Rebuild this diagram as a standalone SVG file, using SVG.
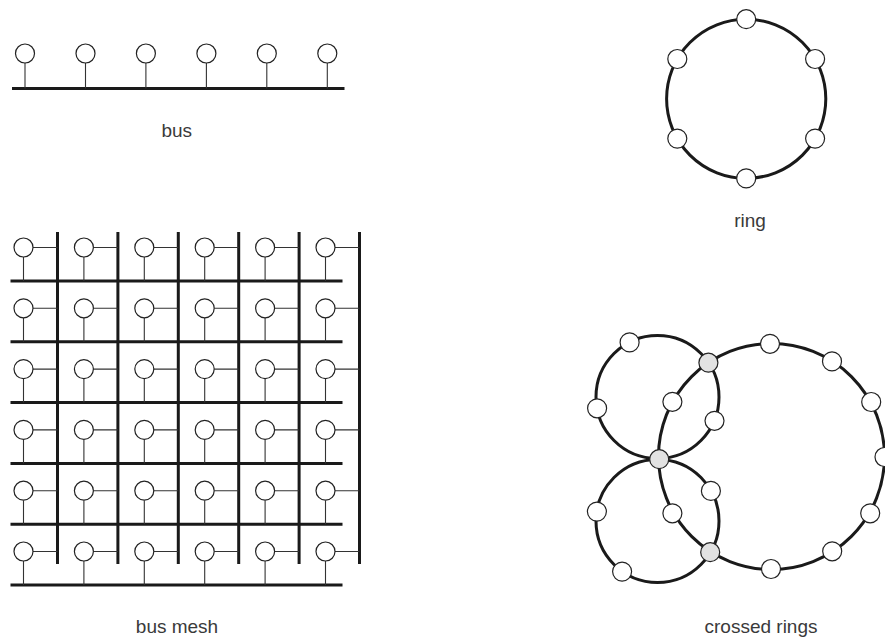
<svg xmlns="http://www.w3.org/2000/svg" width="885" height="638" viewBox="0 0 885 638">
<style>
.bg{fill:#ffffff}
.node{fill:#ffffff;stroke:#222222;stroke-width:1.2}
.hub{fill:#e2e2e2;stroke:#222222;stroke-width:1.2}
.bus{fill:none;stroke:#1a1a1a;stroke-width:3}
.stem{fill:none;stroke:#333333;stroke-width:1.1}
.ring{fill:none;stroke:#1a1a1a;stroke-width:3}
.lbl{font-family:"Liberation Sans",Arial,Helvetica,sans-serif;font-size:19px;fill:#3a3a3a;text-anchor:middle}
</style>
<rect class="bg" x="0" y="0" width="885" height="638"/>

<g id="connectors">
  <!-- bus -->
  <path class="bus" d="M12 88.5H344.5"/>
  <path class="stem" d="M25 63V88.5M85.5 63V88.5M145.9 63V88.5M206.4 63V88.5M266.8 63V88.5M327.3 63V88.5"/>
  <!-- ring -->
  <circle class="ring" cx="746.2" cy="98.8" r="79.6"/>
  <!-- bus mesh: horizontal buses -->
  <path class="bus" d="M10.5 281H342.5M10.5 341.8H342.5M10.5 402.6H342.5M10.5 463.4H342.5M10.5 524.2H342.5M10.5 585H342.5"/>
  <!-- bus mesh: vertical buses -->
  <path class="bus" d="M57.5 232V564M117.9 232V564M178.3 232V564M238.7 232V564M299.1 232V564M359.5 232V564"/>
  <!-- bus mesh: stems -->
  <path class="stem" d="M33 247.5H57.5M23.5 257V281M93.4 247.5H117.9M83.9 257V281M153.8 247.5H178.3M144.3 257V281M214.2 247.5H238.7M204.7 257V281M274.6 247.5H299.1M265.1 257V281M335 247.5H359.5M325.5 257V281"/>
  <path class="stem" d="M33 308.3H57.5M23.5 317.8V341.8M93.4 308.3H117.9M83.9 317.8V341.8M153.8 308.3H178.3M144.3 317.8V341.8M214.2 308.3H238.7M204.7 317.8V341.8M274.6 308.3H299.1M265.1 317.8V341.8M335 308.3H359.5M325.5 317.8V341.8"/>
  <path class="stem" d="M33 369.1H57.5M23.5 378.6V402.6M93.4 369.1H117.9M83.9 378.6V402.6M153.8 369.1H178.3M144.3 378.6V402.6M214.2 369.1H238.7M204.7 378.6V402.6M274.6 369.1H299.1M265.1 378.6V402.6M335 369.1H359.5M325.5 378.6V402.6"/>
  <path class="stem" d="M33 429.9H57.5M23.5 439.4V463.4M93.4 429.9H117.9M83.9 439.4V463.4M153.8 429.9H178.3M144.3 439.4V463.4M214.2 429.9H238.7M204.7 439.4V463.4M274.6 429.9H299.1M265.1 439.4V463.4M335 429.9H359.5M325.5 439.4V463.4"/>
  <path class="stem" d="M33 490.7H57.5M23.5 500.2V524.2M93.4 490.7H117.9M83.9 500.2V524.2M153.8 490.7H178.3M144.3 500.2V524.2M214.2 490.7H238.7M204.7 500.2V524.2M274.6 490.7H299.1M265.1 500.2V524.2M335 490.7H359.5M325.5 500.2V524.2"/>
  <path class="stem" d="M33 551.5H57.5M23.5 561V585M93.4 551.5H117.9M83.9 561V585M153.8 551.5H178.3M144.3 561V585M214.2 551.5H238.7M204.7 561V585M274.6 551.5H299.1M265.1 561V585M335 551.5H359.5M325.5 561V585"/>
  <!-- crossed rings -->
  <circle class="ring" cx="657.5" cy="397" r="61.5"/>
  <circle class="ring" cx="657.5" cy="521" r="61.5"/>
  <circle class="ring" cx="771.5" cy="456.5" r="113"/>
</g>

<!-- bus nodes -->
<g id="bus-n1"><circle class="node" cx="25" cy="53.5" r="9.5"/></g>
<g id="bus-n2"><circle class="node" cx="85.5" cy="53.5" r="9.5"/></g>
<g id="bus-n3"><circle class="node" cx="145.9" cy="53.5" r="9.5"/></g>
<g id="bus-n4"><circle class="node" cx="206.4" cy="53.5" r="9.5"/></g>
<g id="bus-n5"><circle class="node" cx="266.8" cy="53.5" r="9.5"/></g>
<g id="bus-n6"><circle class="node" cx="327.3" cy="53.5" r="9.5"/></g>

<!-- ring nodes -->
<g id="ring-n1"><circle class="node" cx="746.2" cy="19.2" r="9.5"/></g>
<g id="ring-n2"><circle class="node" cx="815.1" cy="59" r="9.5"/></g>
<g id="ring-n3"><circle class="node" cx="815.1" cy="138.6" r="9.5"/></g>
<g id="ring-n4"><circle class="node" cx="746.2" cy="178.4" r="9.5"/></g>
<g id="ring-n5"><circle class="node" cx="677.3" cy="138.6" r="9.5"/></g>
<g id="ring-n6"><circle class="node" cx="677.3" cy="59" r="9.5"/></g>

<!-- bus mesh nodes -->
<g id="mesh-r1c1"><circle class="node" cx="23.5" cy="247.5" r="9.5"/></g>
<g id="mesh-r1c2"><circle class="node" cx="83.9" cy="247.5" r="9.5"/></g>
<g id="mesh-r1c3"><circle class="node" cx="144.3" cy="247.5" r="9.5"/></g>
<g id="mesh-r1c4"><circle class="node" cx="204.7" cy="247.5" r="9.5"/></g>
<g id="mesh-r1c5"><circle class="node" cx="265.1" cy="247.5" r="9.5"/></g>
<g id="mesh-r1c6"><circle class="node" cx="325.5" cy="247.5" r="9.5"/></g>
<g id="mesh-r2c1"><circle class="node" cx="23.5" cy="308.3" r="9.5"/></g>
<g id="mesh-r2c2"><circle class="node" cx="83.9" cy="308.3" r="9.5"/></g>
<g id="mesh-r2c3"><circle class="node" cx="144.3" cy="308.3" r="9.5"/></g>
<g id="mesh-r2c4"><circle class="node" cx="204.7" cy="308.3" r="9.5"/></g>
<g id="mesh-r2c5"><circle class="node" cx="265.1" cy="308.3" r="9.5"/></g>
<g id="mesh-r2c6"><circle class="node" cx="325.5" cy="308.3" r="9.5"/></g>
<g id="mesh-r3c1"><circle class="node" cx="23.5" cy="369.1" r="9.5"/></g>
<g id="mesh-r3c2"><circle class="node" cx="83.9" cy="369.1" r="9.5"/></g>
<g id="mesh-r3c3"><circle class="node" cx="144.3" cy="369.1" r="9.5"/></g>
<g id="mesh-r3c4"><circle class="node" cx="204.7" cy="369.1" r="9.5"/></g>
<g id="mesh-r3c5"><circle class="node" cx="265.1" cy="369.1" r="9.5"/></g>
<g id="mesh-r3c6"><circle class="node" cx="325.5" cy="369.1" r="9.5"/></g>
<g id="mesh-r4c1"><circle class="node" cx="23.5" cy="429.9" r="9.5"/></g>
<g id="mesh-r4c2"><circle class="node" cx="83.9" cy="429.9" r="9.5"/></g>
<g id="mesh-r4c3"><circle class="node" cx="144.3" cy="429.9" r="9.5"/></g>
<g id="mesh-r4c4"><circle class="node" cx="204.7" cy="429.9" r="9.5"/></g>
<g id="mesh-r4c5"><circle class="node" cx="265.1" cy="429.9" r="9.5"/></g>
<g id="mesh-r4c6"><circle class="node" cx="325.5" cy="429.9" r="9.5"/></g>
<g id="mesh-r5c1"><circle class="node" cx="23.5" cy="490.7" r="9.5"/></g>
<g id="mesh-r5c2"><circle class="node" cx="83.9" cy="490.7" r="9.5"/></g>
<g id="mesh-r5c3"><circle class="node" cx="144.3" cy="490.7" r="9.5"/></g>
<g id="mesh-r5c4"><circle class="node" cx="204.7" cy="490.7" r="9.5"/></g>
<g id="mesh-r5c5"><circle class="node" cx="265.1" cy="490.7" r="9.5"/></g>
<g id="mesh-r5c6"><circle class="node" cx="325.5" cy="490.7" r="9.5"/></g>
<g id="mesh-r6c1"><circle class="node" cx="23.5" cy="551.5" r="9.5"/></g>
<g id="mesh-r6c2"><circle class="node" cx="83.9" cy="551.5" r="9.5"/></g>
<g id="mesh-r6c3"><circle class="node" cx="144.3" cy="551.5" r="9.5"/></g>
<g id="mesh-r6c4"><circle class="node" cx="204.7" cy="551.5" r="9.5"/></g>
<g id="mesh-r6c5"><circle class="node" cx="265.1" cy="551.5" r="9.5"/></g>
<g id="mesh-r6c6"><circle class="node" cx="325.5" cy="551.5" r="9.5"/></g>

<!-- crossed rings nodes -->
<g id="cr-a1"><circle class="node" cx="629.6" cy="342.4" r="9.5"/></g>
<g id="cr-a2"><circle class="node" cx="597.1" cy="408.3" r="9.5"/></g>
<g id="cr-a3"><circle class="node" cx="714.5" cy="420.8" r="9.5"/></g>
<g id="cr-b1"><circle class="node" cx="596.9" cy="511.6" r="9.5"/></g>
<g id="cr-b2"><circle class="node" cx="622.1" cy="571.6" r="9.5"/></g>
<g id="cr-b3"><circle class="node" cx="710.9" cy="490.9" r="9.5"/></g>
<g id="cr-c1"><circle class="node" cx="770" cy="343.8" r="9.5"/></g>
<g id="cr-c2"><circle class="node" cx="832" cy="361.4" r="9.5"/></g>
<g id="cr-c3"><circle class="node" cx="871.2" cy="402" r="9.5"/></g>
<g id="cr-c4"><circle class="node" cx="884.5" cy="457" r="9.5"/></g>
<g id="cr-c5"><circle class="node" cx="870.2" cy="513.3" r="9.5"/></g>
<g id="cr-c6"><circle class="node" cx="832.2" cy="551.3" r="9.5"/></g>
<g id="cr-c7"><circle class="node" cx="771" cy="569" r="9.5"/></g>
<g id="cr-c8"><circle class="node" cx="672.4" cy="401.8" r="9.5"/></g>
<g id="cr-c9"><circle class="node" cx="672.4" cy="513.3" r="9.5"/></g>
<g id="cr-h1"><circle class="hub" cx="708.4" cy="362.7" r="9.5"/></g>
<g id="cr-h2"><circle class="hub" cx="659.2" cy="459.2" r="9.5"/></g>
<g id="cr-h3"><circle class="hub" cx="710.2" cy="552.2" r="9.5"/></g>

<!-- labels -->
<text class="lbl" x="176.7" y="137">bus</text>
<text class="lbl" x="750" y="227">ring</text>
<text class="lbl" x="177" y="632.5">bus mesh</text>
<text class="lbl" x="761" y="632.5">crossed rings</text>
</svg>
